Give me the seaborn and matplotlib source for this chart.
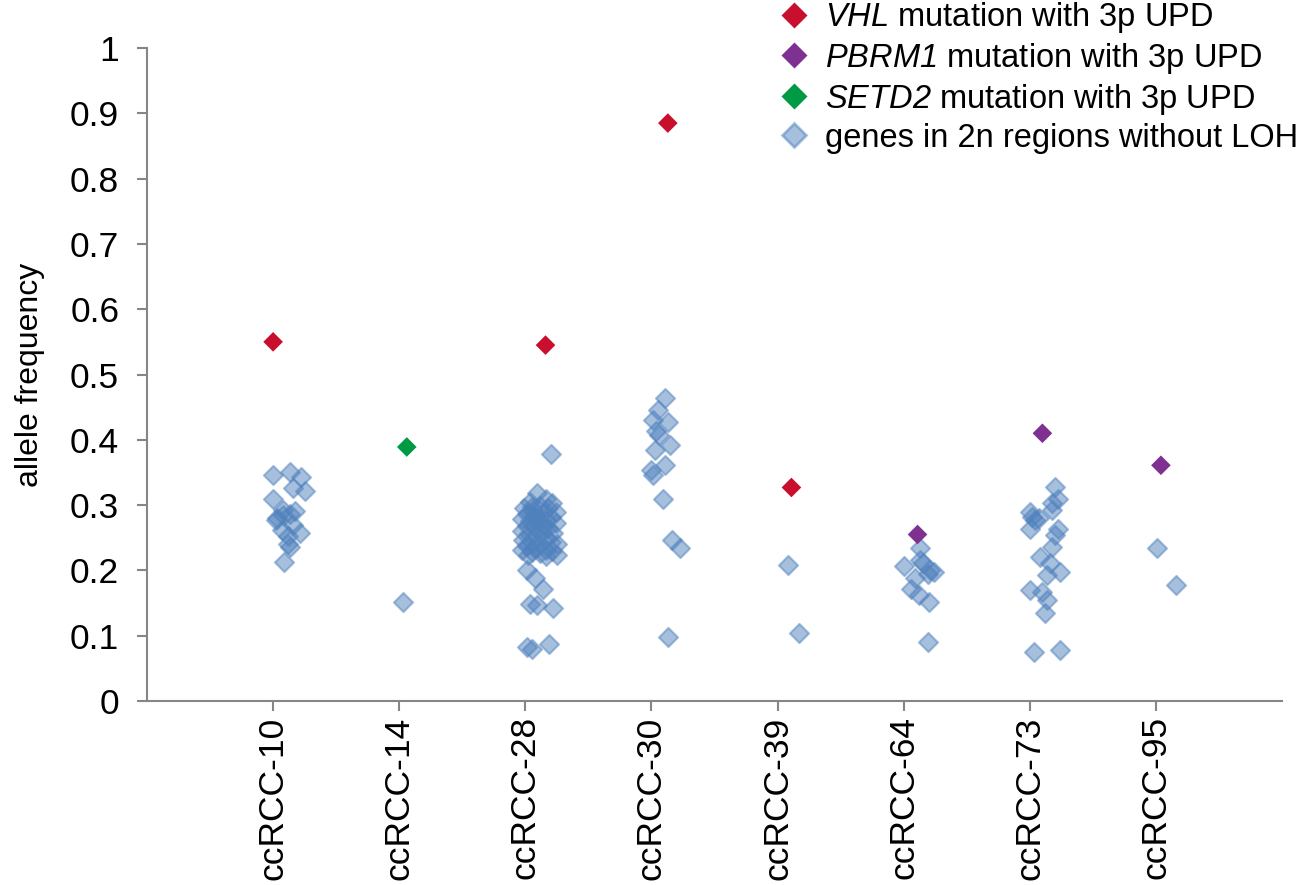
import numpy as np
import pandas as pd
import matplotlib
matplotlib.use("Agg")
import matplotlib.pyplot as plt
from matplotlib.lines import Line2D
import seaborn as sns

# Tumour samples on the x axis
samples = ["ccRCC-10", "ccRCC-14", "ccRCC-28", "ccRCC-30",
           "ccRCC-39", "ccRCC-64", "ccRCC-73", "ccRCC-95"]

# Genes in 2n regions without LOH: allele frequency and horizontal jitter per sample
af_10 = [0.346, 0.351, 0.343, 0.326, 0.321, 0.309, 0.292, 0.287, 0.291, 0.277,
         0.262, 0.270, 0.257, 0.252, 0.241, 0.236, 0.213, 0.285, 0.280]
dx_10 = [0.00, 0.13, 0.22, 0.16, 0.25, 0.00, 0.08, 0.13, 0.17, 0.02,
         0.07, 0.16, 0.21, 0.12, 0.12, 0.13, 0.09, 0.08, 0.03]

af_14 = [0.151]
dx_14 = [0.03]

af_28 = [0.318, 0.310, 0.305, 0.303, 0.295, 0.298, 0.296, 0.292, 0.290, 0.287,
         0.288, 0.284, 0.282, 0.278, 0.276, 0.277, 0.273, 0.272, 0.268, 0.266,
         0.265, 0.260, 0.260, 0.257, 0.255, 0.252, 0.250, 0.247, 0.244, 0.243,
         0.240, 0.240, 0.237, 0.234, 0.232, 0.232, 0.228, 0.229, 0.226, 0.224,
         0.223, 0.222, 0.280, 0.268, 0.297,
         0.379, 0.200, 0.188, 0.172, 0.149, 0.147, 0.142, 0.083, 0.080, 0.088]
dx_28 = [0.09, 0.16, 0.04, 0.21, -0.01, 0.12, 0.18, 0.06, 0.24, 0.01,
         0.14, 0.08, 0.20, -0.03, 0.04, 0.16, 0.11, 0.24, 0.01, 0.07,
         0.18, -0.03, 0.13, 0.22, 0.03, 0.09, 0.16, -0.02, 0.05, 0.20,
         0.12, 0.25, 0.01, 0.08, 0.16, -0.03, 0.05, 0.21, 0.12, 0.25,
         0.02, 0.16, 0.08, 0.15, 0.05,
         0.20, 0.01, 0.08, 0.14, 0.04, 0.09, 0.22, 0.01, 0.05, 0.19]

af_30 = [0.464, 0.446, 0.430, 0.428, 0.413, 0.407, 0.392, 0.384, 0.361, 0.354,
         0.346, 0.310, 0.247, 0.234, 0.098]
dx_30 = [0.11, 0.05, 0.01, 0.13, 0.04, 0.06, 0.15, 0.03, 0.11, 0.00,
         0.01, 0.09, 0.16, 0.23, 0.13]

af_39 = [0.209, 0.104]
dx_39 = [0.08, 0.17]

af_64 = [0.234, 0.216, 0.212, 0.206, 0.200, 0.198, 0.195, 0.188, 0.172, 0.162,
         0.152, 0.091]
dx_64 = [0.13, 0.13, 0.15, 0.00, 0.21, 0.24, 0.19, 0.09, 0.06, 0.12,
         0.20, 0.19]

af_73 = [0.328, 0.310, 0.303, 0.292, 0.290, 0.282, 0.277, 0.280, 0.264, 0.264,
         0.254, 0.236, 0.221, 0.211, 0.198, 0.193, 0.170, 0.167, 0.155, 0.134,
         0.075, 0.078]
dx_73 = [0.20, 0.22, 0.18, 0.18, 0.00, 0.02, 0.04, 0.07, 0.00, 0.22,
         0.20, 0.18, 0.08, 0.16, 0.24, 0.14, 0.00, 0.10, 0.14, 0.12,
         0.03, 0.24]

af_95 = [0.234, 0.178]
dx_95 = [0.01, 0.16]

# Driver mutations with 3p UPD
mut_sample = ["ccRCC-10", "ccRCC-28", "ccRCC-30", "ccRCC-39",
              "ccRCC-64", "ccRCC-73", "ccRCC-95", "ccRCC-14"]
mut_gene = ["VHL", "VHL", "VHL", "VHL", "PBRM1", "PBRM1", "PBRM1", "SETD2"]
mut_af = [0.550, 0.545, 0.885, 0.327, 0.255, 0.410, 0.361, 0.389]
mut_dx = [0.00, 0.16, 0.13, 0.11, 0.11, 0.10, 0.04, 0.06]

gene_colors = {"VHL": "#c8102e", "PBRM1": "#7f3192", "SETD2": "#009a44"}
BLUE = "#4f81bd"
GREY = "#868686"

bg_af = [af_10, af_14, af_28, af_30, af_39, af_64, af_73, af_95]
bg_dx = [dx_10, dx_14, dx_28, dx_30, dx_39, dx_64, dx_73, dx_95]
rows = []
for i, s in enumerate(samples):
    for a, d in zip(bg_af[i], bg_dx[i]):
        rows.append({"sample": s, "pos": i + 1 + d, "af": a})
bg = pd.DataFrame(rows)

mut = pd.DataFrame({"sample": mut_sample, "gene": mut_gene, "af": mut_af, "dx": mut_dx})
mut["pos"] = [samples.index(s) + 1 for s in mut["sample"]] + mut["dx"]

sns.set_theme(style="ticks")
plt.rcParams.update({
    "font.family": ["Liberation Sans", "DejaVu Sans"],
    "text.color": "black",
    "axes.labelcolor": "black",
    "mathtext.fontset": "custom",
    "mathtext.rm": "Liberation Sans",
    "mathtext.sf": "Liberation Sans:italic",
})

fig = plt.figure(figsize=(13.12, 8.85), dpi=100)
ax = fig.add_axes([147 / 1312, 1 - 701 / 885, (1282 - 147) / 1312, (701 - 48) / 885])

sns.scatterplot(data=bg, x="pos", y="af", marker="D", s=95, color=BLUE, alpha=0.5,
                edgecolor=BLUE, linewidth=1.5, ax=ax, zorder=2, legend=False)
sns.scatterplot(data=mut, x="pos", y="af", hue="gene", palette=gene_colors, marker="D",
                s=100, edgecolor="none", linewidth=0, ax=ax, zorder=3, legend=False)

ax.set_xlim(0, 9)
ax.set_ylim(0, 1)
ax.set_xticks(range(1, len(samples) + 1))
ax.set_xticklabels(samples, rotation=90, fontsize=25.5)
yt = np.round(np.arange(0, 1.01, 0.1), 1)
ax.set_yticks(yt)
ax.set_yticklabels([f"{v:g}" for v in yt], fontsize=25.5)
ax.set_xlabel("")
ax.set_ylabel("allele frequency", fontsize=23)
ax.yaxis.set_label_coords(-0.09, 0.5)

for side in ["top", "right"]:
    ax.spines[side].set_visible(False)
for side in ["left", "bottom"]:
    ax.spines[side].set_color(GREY)
    ax.spines[side].set_linewidth(1.5)
ax.tick_params(axis="y", length=7, width=1.5, color=GREY, labelcolor="black", pad=13)
ax.tick_params(axis="x", length=7, width=1.5, color=GREY, labelcolor="black", pad=4)

handles = [
    Line2D([], [], marker="D", linestyle="none", markersize=13,
           markerfacecolor=gene_colors["VHL"], markeredgecolor="none"),
    Line2D([], [], marker="D", linestyle="none", markersize=13,
           markerfacecolor=gene_colors["PBRM1"], markeredgecolor="none"),
    Line2D([], [], marker="D", linestyle="none", markersize=13,
           markerfacecolor=gene_colors["SETD2"], markeredgecolor="none"),
    Line2D([], [], marker="D", linestyle="none", markersize=12, alpha=0.5,
           markerfacecolor=BLUE, markeredgecolor=BLUE, markeredgewidth=2),
]
labels = [r"$\mathsf{VHL}$ mutation with 3p UPD",
          r"$\mathsf{PBRM1}$ mutation with 3p UPD",
          r"$\mathsf{SETD2}$ mutation with 3p UPD",
          "genes in 2n regions without LOH"]
fig.legend(handles, labels, loc="upper left", bbox_to_anchor=(778 / 1312, 1.0),
           frameon=False, fontsize=23.5, handlelength=1.0, handletextpad=0.45,
           labelspacing=0.18, borderaxespad=0, borderpad=0)

fig.savefig("out.png", dpi=100)
